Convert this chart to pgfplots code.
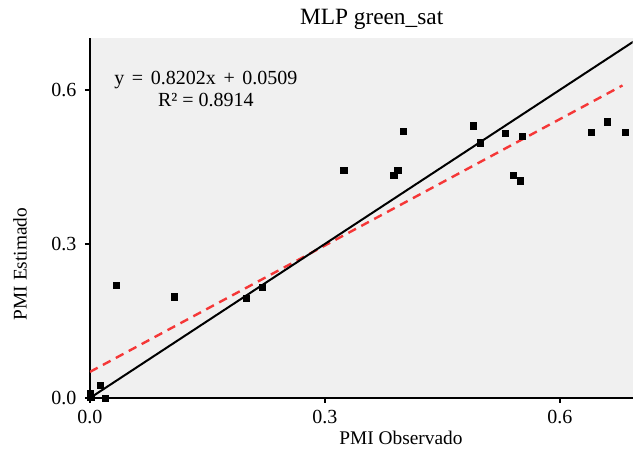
\documentclass[border=0pt]{standalone}
\usepackage{pgfplots}
\pgfplotsset{compat=1.18}
\usepackage{fontspec}
\setmainfont{Liberation Serif}
\definecolor{bg}{HTML}{F0F0F0}
\definecolor{fitred}{HTML}{F53737}
\begin{document}
\begin{tikzpicture}
\begin{axis}[
  scale only axis,
  width=407pt, height=270pt,
  xmin=0, xmax=0.693, ymin=0, ymax=0.701,
  axis lines*=left,
  axis line style={black, line width=1.2pt},
  axis background/.style={fill=bg},
  xtick={0,0.3,0.6}, ytick={0,0.3,0.6},
  xticklabels={0.0,0.3,0.6}, yticklabels={0.0,0.3,0.6},
  tick align=outside, major tick length=3.75pt,
  tick style={black, line width=1.2pt},
  /pgf/number format/assume math mode=true,
  ticklabel style={font=\fontsize{15}{17}\selectfont},
  xticklabel style={yshift=-2pt},
  yticklabel style={xshift=-3pt},
  xlabel={PMI Observado}, ylabel={PMI Estimado},
  label style={font=\fontsize{14.5}{17}\selectfont, inner sep=0pt},
  xlabel style={at={(axis description cs:0.573,-0.111)}, anchor=center},
  ylabel style={at={(axis description cs:-0.129,0.372)}, anchor=center},
  title={MLP green\_sat},
  title style={font=\fontsize{17.5}{20}\selectfont, inner sep=0pt, at={(axis description cs:0.519,1.056)}, anchor=center, yshift=-7.5pt},
  clip=true,
]
\addplot[fitred, line width=1.8pt, dash pattern=on 6.5pt off 4.5pt] coordinates {(0,0.0509) (0.68,0.6086)};
\addplot[black, line width=1.5pt] coordinates {(0,0) (0.72,0.72)};
\addplot[only marks, mark=square*, mark size=2.3pt, black] coordinates {
(0.0,0.01) (0.001,0.002) (0.013,0.025) (0.02,0.0)
(0.034,0.22) (0.108,0.197) (0.2,0.195) (0.22,0.216)
(0.324,0.444) (0.388,0.434) (0.393,0.444) (0.4,0.52)
(0.489,0.53) (0.498,0.497) (0.53,0.515) (0.541,0.433)
(0.55,0.423) (0.552,0.51) (0.64,0.518) (0.661,0.538) (0.684,0.518)
};
\node[align=center, font=\fontsize{15}{16.5}\selectfont, inner sep=0pt] at (axis cs:0.148,0.602) {y\hspace{2pt} =\hspace{2pt} 0.8202x\hspace{2pt} +\hspace{2pt} 0.0509\\R² = 0.8914};
\end{axis}
\path (current axis.south west) ++(-67.5pt,-39pt) coordinate (bl);
\path (current axis.south west) ++(412.5pt,298.5pt) coordinate (tr);
\useasboundingbox (bl) rectangle (tr);
\end{tikzpicture}
\end{document}
